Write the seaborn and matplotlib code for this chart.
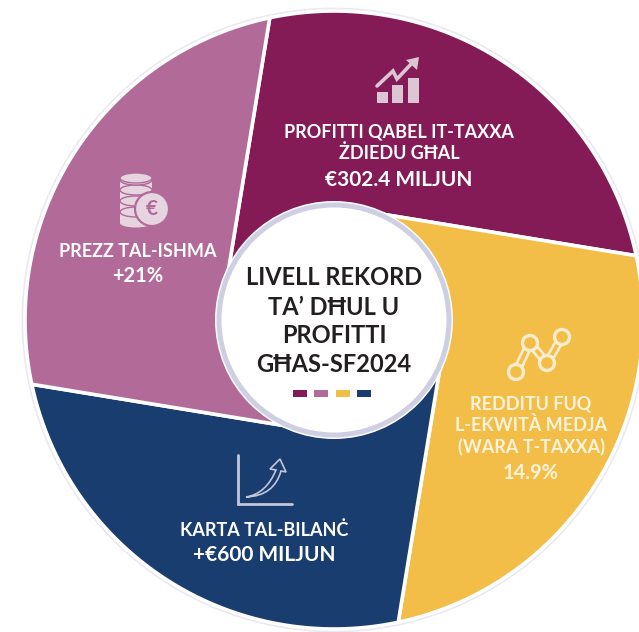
import numpy as np
import matplotlib
matplotlib.use("Agg")
import matplotlib.pyplot as plt
import seaborn as sns
from matplotlib.patches import Circle, Ellipse, Rectangle, PathPatch, Polygon
from matplotlib.path import Path

# Dati
segments = ["Profitti", "Redditu", "Karta tal-bilanc", "Prezz tal-ishma"]
shares = [25, 25, 25, 25]
colors = ["#841B56", "#F3BE48", "#1A3D70", "#B26A98"]
legend_order = [0, 3, 1, 2]

profit_lines = ["PROFITTI QABEL IT-TAXXA", "ŻDIEDU GĦAL", "€302.4 MILJUN"]
equity_lines = ["REDDITU FUQ", "L-EKWITÀ MEDJA", "(WARA T-TAXXA)", "14.9%"]
balance_lines = ["KARTA TAL-BILANĊ", "+€600 MILJUN"]
share_lines = ["PREZZ TAL-ISHMA", "+21%"]
centre_lines = ["LIVELL REKORD", "TA’ DĦUL U", "PROFITTI", "GĦAS-SF2024"]

W, H = 639, 632
CX, CY, R = 334, 320, 309
R_IN = 120
TWIST = 48


def Y(y):
    return H - y


def pol(angle, r):
    a = np.radians(angle)
    return CX + r * np.cos(a), Y(CY) + r * np.sin(a)


sns.set_theme(style="white")
plt.rcParams["font.family"] = ["Lato", "DejaVu Sans"]
palette = sns.color_palette(colors)

fig = plt.figure(figsize=(W / 100, H / 100), dpi=100)
ax = fig.add_axes([0, 0, 1, 1])

# torta: angoli dal pie, poi fette "a girandola"
wedges, _ = ax.pie(shares, colors=palette, startangle=102, counterclock=False,
                   center=(CX, Y(CY)), radius=R, frame=False)
ax.set_xlim(0, W)
ax.set_ylim(0, H)
ax.set_aspect("auto")
ax.axis("off")

ax.add_patch(Circle((CX, Y(CY)), R + 2, fc="white", ec="#e9e8f3", lw=2, zorder=0.5))

for w, col in zip(wedges, palette):
    t1, t2 = w.theta1, w.theta2
    w.set_visible(False)
    arc = np.linspace(t1, t2, 120)
    pts = [pol(a, R) for a in arc]
    # bordo dritto verso il cerchio centrale
    for th, side in ((t2, "end"), (t1, "start")):
        ox, oy = pol(th, R)
        ix, iy = pol(th + TWIST, R_IN)
        ex, ey = ix + 0.1 * (ix - ox), iy + 0.1 * (iy - oy)
        pts.append((ex, ey))
        if side == "end":
            pts.append((CX, Y(CY)))
    ax.add_patch(Polygon(pts, closed=True, fc=col, ec="white", lw=2.6, zorder=1, joinstyle="miter"))

# cerchio centrale
ax.add_patch(Circle((CX, Y(CY)), 119, fc="white", ec="none", zorder=2))
ax.add_patch(Circle((CX, Y(CY)), 115, fc="white", ec="#cfcfe4", lw=3.6, zorder=2.1))

txt = dict(ha="center", va="baseline", zorder=5)
for s, y in zip(centre_lines, [285, 315, 343, 372]):
    ax.text(CX, Y(y), s, fontsize=17, fontweight="bold", color="#231f20", **txt)

for i, x in zip(legend_order, [300, 321, 343, 364]):
    ax.add_patch(Rectangle((x - 7, Y(396.5)), 14, 7, fc=palette[i], ec="none", zorder=5))

# etichette
for s, y, fs in zip(profit_lines, [138, 159, 186], [13, 13, 15]):
    ax.text(399, Y(y), s, fontsize=fs, fontweight="bold", color="white", **txt)
for s, y, fs in zip(share_lines, [257, 282], [13, 14.5]):
    ax.text(138, Y(y), s, fontsize=fs, fontweight="bold", color="white", **txt)
for s, y, fs in zip(balance_lines, [536, 561], [13, 15]):
    ax.text(264, Y(y), s, fontsize=fs, fontweight="bold", color="white", **txt)
for s, y, fs in zip(equity_lines, [409, 431, 453, 479], [13, 13, 13, 14.5]):
    ax.text(531, Y(y), s, fontsize=fs, fontweight="bold", color="#fdf3dc", **txt)

# icona grafico a barre
c1 = "#dcc5d4"
for x0, top in zip([377, 392, 408], [92, 85, 78]):
    ax.add_patch(Rectangle((x0, Y(103)), 11, 103 - top, fc=c1, ec="none", zorder=4))
ax.plot([377, 393, 397, 413], [Y(v) for v in [86, 71, 79, 62]], color=c1, lw=2.6, zorder=4,
        solid_joinstyle="miter")
ax.add_patch(Polygon([(419, Y(57)), (406, Y(60)), (417, Y(70))], fc=c1, ec="none", zorder=4))

# icona monete
c2 = "#e6d5e0"
pink = palette[3]
for y in [217, 206, 195, 185]:
    ax.add_patch(Rectangle((120, Y(y + 6)), 32, 12, fc=c2, ec="none", zorder=4))
    ax.add_patch(Ellipse((136, Y(y + 6)), 32, 9, fc=c2, ec="none", zorder=4))
    ax.add_patch(Ellipse((136, Y(y - 5)), 32, 10, fc=c2, ec=pink, lw=1.0, zorder=4.1))
ax.add_patch(Ellipse((136, Y(178)), 32, 10, fc=c2, ec=pink, lw=1.0, zorder=4.2))
ax.add_patch(Circle((152, Y(209)), 17, fc=c2, ec=pink, lw=1.6, zorder=4.3))
ax.text(152, Y(209), "€", fontsize=15, fontweight="bold", color=pink,
        ha="center", va="center", zorder=4.4)

# icona rete
c3 = "#fbeccd"
nodes = [(516, 372), (530, 343), (547, 363), (562, 337)]
nx = [n[0] for n in nodes]
ny = [Y(n[1]) for n in nodes]
ax.plot(nx, ny, color=c3, lw=6.5, zorder=4, solid_joinstyle="miter")
ax.plot(nx, ny, color=palette[1], lw=2.6, zorder=4.1, solid_joinstyle="miter")
for x, y in zip(nx, ny):
    ax.add_patch(Circle((x, y), 7.5, fc=palette[1], ec=c3, lw=2.4, zorder=4.2))

# icona assi e freccia
c4 = "#c3c6da"
ax.plot([238, 238, 292], [Y(455), Y(504), Y(504)], color=c4, lw=2, zorder=4, solid_joinstyle="miter")
verts = [(246, Y(497)), (266, Y(494)), (276, Y(470)), (270, Y(469)), (280, Y(459)), (286, Y(472)),
         (281, Y(471)), (274, Y(496)), (246, Y(497))]
codes = [Path.MOVETO, Path.CURVE3, Path.CURVE3, Path.LINETO, Path.LINETO, Path.LINETO,
         Path.LINETO, Path.CURVE3, Path.CURVE3]
ax.add_patch(PathPatch(Path(verts, codes), fc=palette[2], ec=c4, lw=1.2, zorder=4))

fig.savefig("out.png", dpi=100, facecolor="white")
